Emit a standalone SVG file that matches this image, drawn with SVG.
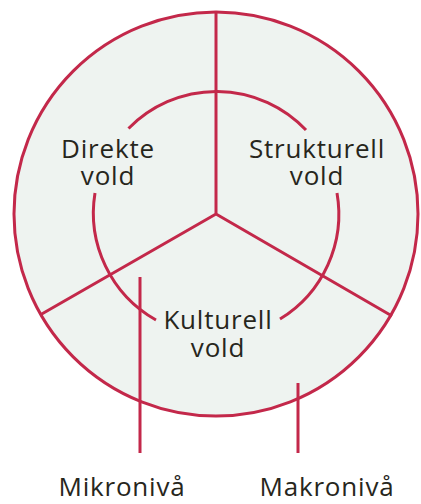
<svg xmlns="http://www.w3.org/2000/svg" width="421" height="504" viewBox="0 0 421 504">
<style>
.ln{fill:none;stroke:#c3284a;stroke-width:3;stroke-linecap:butt}
.t{font-family:"Open Sans","Liberation Sans",sans-serif;font-size:26px;letter-spacing:0.8px;fill:#27261c;text-anchor:middle}
</style>
<rect width="421" height="504" fill="#ffffff"/>
<g id="outer">
<circle cx="216" cy="214" r="202" fill="#eef3f0" stroke="#c3284a" stroke-width="3"/>
</g>
<g id="connectors">
<path class="ln" d="M216 12 V214 M216 214 L40 315 M216 214 L392 316"/>
<path class="ln" d="M128.5 128.5 A123 123 0 0 1 306 130"/>
<path class="ln" d="M95 193 A123 123 0 0 0 156 320"/>
<path class="ln" d="M337 193 A123 123 0 0 1 280 319"/>
<path class="ln" d="M140 277 V453 M298 383 V453"/>
</g>
<g id="direkte"><text class="t" x="108" y="158">Direkte</text><text class="t" x="108" y="185">vold</text></g>
<g id="strukturell"><text class="t" x="317" y="158">Strukturell</text><text class="t" x="317" y="185">vold</text></g>
<g id="kulturell"><text class="t" x="218" y="329">Kulturell</text><text class="t" x="218" y="357">vold</text></g>
<g id="mikro"><text class="t" x="122" y="496">Mikronivå</text></g>
<g id="makro"><text class="t" x="327" y="496">Makronivå</text></g>
</svg>
